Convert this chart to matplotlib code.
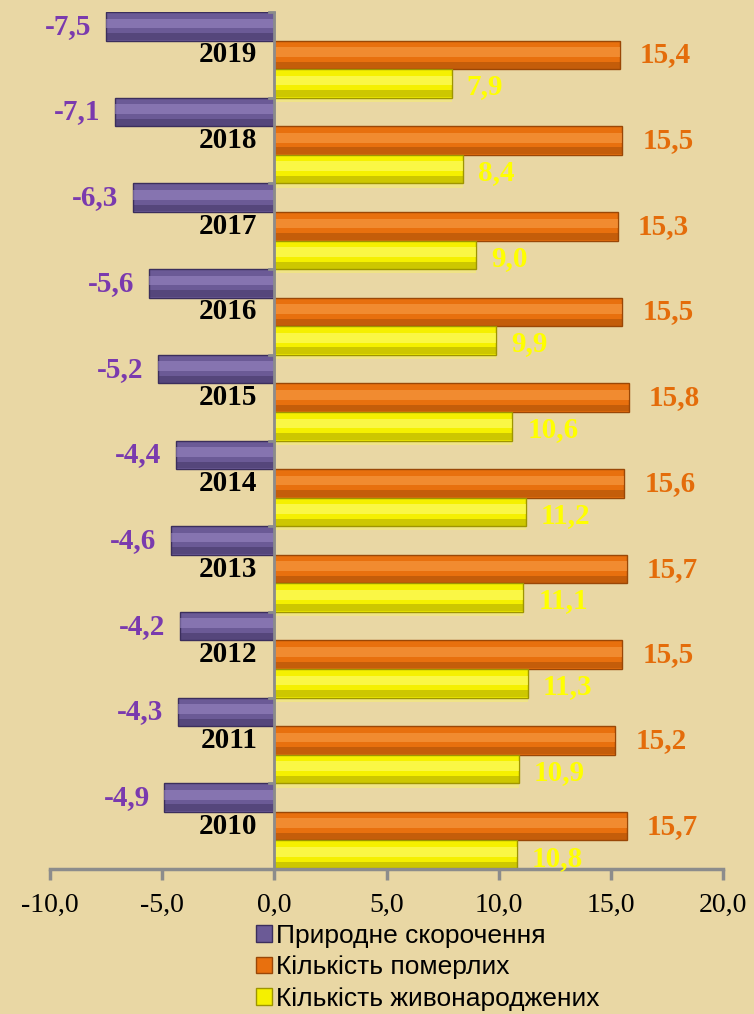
import matplotlib
matplotlib.use("Agg")
import matplotlib.pyplot as plt
from matplotlib.patches import Patch
import numpy as np

years = ["2010", "2011", "2012", "2013", "2014", "2015", "2016", "2017", "2018", "2019"]
natural = [-4.9, -4.3, -4.2, -4.6, -4.4, -5.2, -5.6, -6.3, -7.1, -7.5]
deaths = [15.7, 15.2, 15.5, 15.7, 15.6, 15.8, 15.5, 15.3, 15.5, 15.4]
births = [10.8, 10.9, 11.3, 11.1, 11.2, 10.6, 9.9, 9.0, 8.4, 7.9]
series_names = ["Природне скорочення", "Кількість померлих", "Кількість живонароджених"]
xticks = [-10, -5, 0, 5, 10, 15, 20]

bg = "#E9D7A4"
cols = {
    "p": ("#6B5A96", "#A28FCB", "#3B2E5C", "#7A3AAE"),
    "o": ("#E8700E", "#FBA752", "#9A4706", "#E46C0A"),
    "y": ("#F5F000", "#FFFF8A", "#9E9500", "#FFFF00"),
}

fig = plt.figure(figsize=(7.54, 10.14), dpi=100, facecolor=bg)
ax = fig.add_axes([50/754, 1-869/1014, 673/754, 857/1014])
ax.set_facecolor(bg)
ax.set_xlim(-10, 20)
ax.set_ylim(-0.5, 9.5)

h = 1/3
y = np.arange(len(years))

def bevel_bars(ypos, vals, c, glow=False):
    main, light, dark, _ = c
    if glow:
        ax.barh(ypos, vals, height=h*1.3, left=0, color="#FFFF50", alpha=0.35, lw=0, zorder=1)
    ax.barh(ypos, vals, height=h, color=main, edgecolor=dark, lw=1.0, zorder=2)
    ax.barh(ypos + h*0.10, vals, height=h*0.34, color=light, alpha=0.5, lw=0, zorder=3)
    ax.barh(ypos - h*0.36, vals, height=h*0.24, color=dark, alpha=0.45, lw=0, zorder=3)

bevel_bars(y + h, natural, cols["p"])
bevel_bars(y, deaths, cols["o"])
bevel_bars(y - h, births, cols["y"], glow=True)

def fmt(v):
    return f"{v:.1f}".replace(".", ",")

lab_kw = dict(fontfamily="Liberation Serif", fontweight="bold", fontsize=21)
for i in range(len(years)):
    ax.text(natural[i] - 0.65, y[i] + h + 0.0, fmt(natural[i]), ha="right", va="center",
            color=cols["p"][3], zorder=5, **lab_kw)
    ax.text(deaths[i] + 0.9, y[i], fmt(deaths[i]), ha="left", va="center",
            color=cols["o"][3], zorder=5, **lab_kw)
    ax.text(births[i] + 0.67, y[i] - h - 0.04, fmt(births[i]), ha="left", va="center",
            color=cols["y"][3], zorder=5, **lab_kw)
    ax.text(-0.76, y[i], years[i], ha="right", va="center", color="black", zorder=5,
            fontfamily="Liberation Serif", fontweight="bold", fontsize=21)

for s in ["top", "right", "left"]:
    ax.spines[s].set_visible(False)
ax.spines["bottom"].set_color("#8C8C8C")
ax.spines["bottom"].set_linewidth(2.5)
ax.axvline(0, color="#8C8C8C", lw=2, zorder=4)
for b in np.arange(-0.5, 10.0, 1.0):
    ax.plot([-0.25, 0], [b, b], color="#8C8C8C", lw=2, zorder=4, clip_on=False)

ax.set_xticks(xticks)
ax.set_xticklabels([fmt(t) for t in xticks], fontfamily="Liberation Serif", fontsize=20)
ax.tick_params(axis="x", length=8, width=2.5, color="#8C8C8C", pad=9)
ax.set_yticks([])

handles = [Patch(facecolor=cols[k][0], edgecolor=cols[k][2], lw=1) for k in ["p", "o", "y"]]
leg = fig.legend(handles, series_names, loc="upper left", bbox_to_anchor=(256/754, 1-924/1014),
                 frameon=False, prop={"family": "Liberation Sans", "size": 19},
                 handlelength=0.6, handleheight=0.6, handletextpad=0.15, labelspacing=0.28,
                 borderaxespad=0, borderpad=0)

fig.savefig("out.png", dpi=100, facecolor=bg)
